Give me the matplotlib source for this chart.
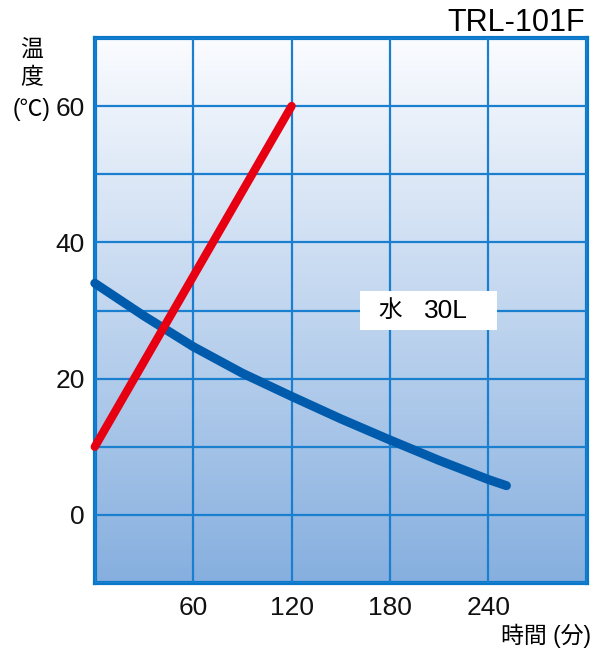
import numpy as np
import matplotlib
matplotlib.use("Agg")
import matplotlib.pyplot as plt
from matplotlib.colors import LinearSegmentedColormap
from matplotlib.patches import Rectangle

plt.rcParams['font.family'] = ['Liberation Sans', 'Noto Sans CJK JP', 'DejaVu Sans']

# data
heat_time = [0, 120]
heat_temp = [10, 60]

cool_time = [0, 30, 60, 90, 120, 150, 180, 210, 240, 251]
cool_temp = [34, 29.2, 24.7, 20.8, 17.4, 14.1, 11.0, 8.0, 5.2, 4.3]

x_ticks = [60, 120, 180, 240]
y_ticks = [0, 20, 40, 60]

fig = plt.figure(figsize=(6, 6.53), dpi=100)
ax = fig.add_axes([0.158, 0.107, 0.82, 0.835])

# background gradient
grad = LinearSegmentedColormap.from_list("bg", ["#86afdf", "#fbfcff"])
ax.imshow(np.linspace(0, 1, 256).reshape(-1, 1), cmap=grad, origin="lower",
          extent=[0, 300, -10, 70], aspect="auto", zorder=0)

ax.set_xlim(0, 300)
ax.set_ylim(-10, 70)
ax.set_xticks(np.arange(0, 301, 60))
ax.set_yticks(np.arange(-10, 71, 10))
ax.set_xticklabels(["" if v not in x_ticks else str(v) for v in range(0, 301, 60)])
ax.set_yticklabels(["" if v not in y_ticks else str(v) for v in range(-10, 71, 10)])
ax.grid(True, color="#1b7fcf", lw=1.6, zorder=1)
ax.set_axisbelow(False)
ax.tick_params(length=0, labelsize=19, colors="#111111")
ax.tick_params(axis="x", pad=9)
ax.tick_params(axis="y", pad=7)
for sp in ax.spines.values():
    sp.set_color("#0a78c8")
    sp.set_linewidth(3)

ax.plot(cool_time, cool_temp, color="#005bac", lw=6.5, solid_capstyle="round",
        solid_joinstyle="round", zorder=3, clip_on=False)
ax.plot(heat_time, heat_temp, color="#e60012", lw=6, solid_capstyle="round",
        zorder=4, clip_on=False)

# label box
ax.add_patch(Rectangle((162, 27.2), 83.5, 5.6, fc="white", ec="none", zorder=5))
ax.text(180, 29.9, "水", fontsize=17, ha="center", va="center", zorder=6)
ax.text(213.8, 29.9, "30L", fontsize=19, ha="center", va="center", zorder=6)

fig.text(0.975, 0.988, "TRL-101F", fontsize=22, ha="right", va="top")
fig.text(0.053, 0.94, "温\n度", fontsize=16.5, ha="center", va="top", linespacing=1.2)
fig.text(0.053, 0.832, "(℃)", fontsize=16.5, ha="center", va="center")
fig.text(0.985, 0.027, "時間 (分)", fontsize=16.5, ha="right", va="center")

fig.savefig("out.png", dpi=100)
